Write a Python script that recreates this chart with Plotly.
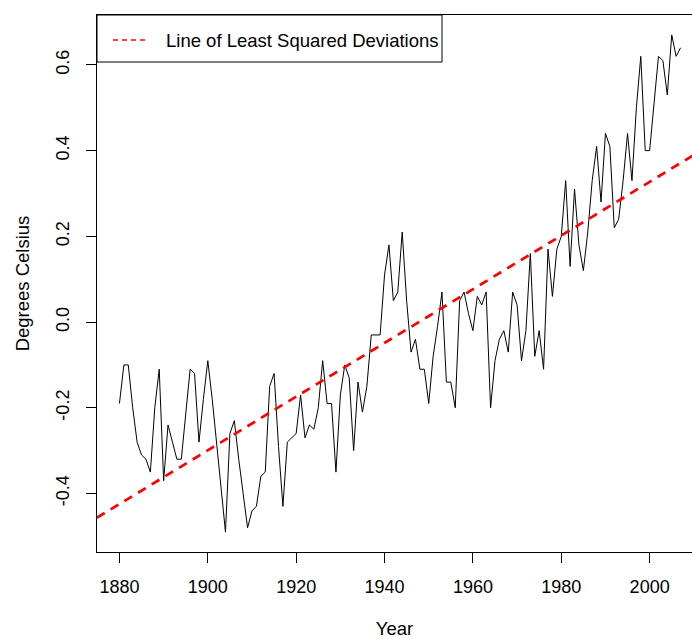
import numpy as np
import plotly.graph_objects as go

# Annual global temperature anomalies (degrees Celsius), 1880-2007
years = list(range(1880, 2008))
anomaly = [
    -0.19, -0.10, -0.10, -0.20, -0.28, -0.31, -0.32, -0.35, -0.20, -0.11,
    -0.37, -0.24, -0.28, -0.32, -0.32, -0.21, -0.11, -0.12, -0.28, -0.18,
    -0.09, -0.18, -0.28, -0.39, -0.49, -0.26, -0.23, -0.32, -0.40, -0.48,
    -0.44, -0.43, -0.36, -0.35, -0.15, -0.12, -0.29, -0.43, -0.28, -0.27,
    -0.26, -0.17, -0.27, -0.24, -0.25, -0.20, -0.09, -0.19, -0.19, -0.35,
    -0.17, -0.10, -0.13, -0.30, -0.14, -0.21, -0.15, -0.03, -0.03, -0.03,
    0.11, 0.18, 0.05, 0.07, 0.21, 0.05, -0.07, -0.04, -0.11, -0.11,
    -0.19, -0.08, -0.01, 0.07, -0.14, -0.14, -0.20, 0.05, 0.07, 0.02,
    -0.02, 0.06, 0.04, 0.07, -0.20, -0.09, -0.04, -0.02, -0.07, 0.07,
    0.04, -0.09, -0.02, 0.16, -0.08, -0.02, -0.11, 0.17, 0.06, 0.17,
    0.20, 0.33, 0.13, 0.31, 0.18, 0.12, 0.21, 0.33, 0.41, 0.28,
    0.44, 0.41, 0.22, 0.24, 0.33, 0.44, 0.33, 0.50, 0.62, 0.40,
    0.40, 0.52, 0.62, 0.61, 0.53, 0.67, 0.62, 0.64,
]
x_ticks = [1880, 1900, 1920, 1940, 1960, 1980, 2000]
y_ticks = [-0.4, -0.2, 0.0, 0.2, 0.4, 0.6]
y_tick_text = ["-0.4", "-0.2", "0.0", "0.2", "0.4", "0.6"]
legend_label = "Line of Least Squared Deviations"

yr = np.array(years, dtype=float)
temp = np.array(anomaly, dtype=float)

# Ordinary least squares trend
slope, intercept = np.polyfit(yr, temp, 1)

# Axis ranges padded by 4% on each side
xpad = 0.04 * (yr.max() - yr.min())
ypad = 0.04 * (temp.max() - temp.min())
x_lo, x_hi = yr.min() - xpad, yr.max() + xpad
y_lo, y_hi = temp.min() - ypad, temp.max() + ypad

W, H = 692, 639
L, T, B = 97, 15, 87
full_w = 606                      # width of the full plotting region
vis_w = W - L                     # part of it that fits on the page
x_vis_hi = x_lo + (x_hi - x_lo) * vis_w / full_w

trend_x = np.array([x_lo, x_hi])
trend_y = intercept + slope * trend_x

TICK_FONT = dict(family="Liberation Sans, Arial", size=18, color="black")
TEXT_FONT = dict(family="Liberation Sans, Arial", size=18.5, color="black")

fig = go.Figure()
fig.add_trace(go.Scatter(
    x=yr, y=temp, mode="lines",
    line=dict(color="black", width=1),
    showlegend=False, hoverinfo="skip",
))
fig.add_trace(go.Scatter(
    x=trend_x, y=trend_y, mode="lines",
    line=dict(color="#ff0000", width=2.7, dash="9px,7px"),
    showlegend=False, hoverinfo="skip",
))

# Legend box in the top-left corner of the plot
plot_h = H - T - B
lg_x0, lg_x1 = 0.0, (442 - L) / vis_w
lg_y1 = 1.0
lg_y0 = 1.0 - (62 - T) / plot_h
fig.add_shape(type="rect", xref="paper", yref="paper",
              x0=lg_x0, x1=lg_x1, y0=lg_y0, y1=lg_y1,
              line=dict(color="black", width=1), fillcolor="white", layer="above")
ly = 1.0 - (40 - T) / plot_h
fig.add_shape(type="line", xref="paper", yref="paper",
              x0=(113 - L) / vis_w, x1=(149 - L) / vis_w, y0=ly, y1=ly,
              line=dict(color="#ff0000", width=1.3, dash="5px,4px"), layer="above")
fig.add_annotation(xref="paper", yref="paper", x=(164 - L) / vis_w, y=ly,
                   xanchor="left", yanchor="middle", showarrow=False,
                   text=legend_label, font=TEXT_FONT)

fig.update_layout(
    width=W, height=H,
    margin=dict(l=L, r=0, t=T, b=B, pad=0, autoexpand=False),
    paper_bgcolor="white", plot_bgcolor="white",
    showlegend=False,
    xaxis=dict(
        range=[x_lo, x_vis_hi], tickvals=x_ticks, ticks="outside", ticklen=10,
        tickcolor="black", tickwidth=1, showgrid=False, zeroline=False,
        showline=True, linecolor="black", linewidth=1, mirror=True,
        tickfont=TICK_FONT, ticklabelstandoff=8, automargin=False,
        title=dict(text="Year", font=TEXT_FONT, standoff=40),
    ),
    yaxis=dict(
        range=[y_lo, y_hi], tickvals=y_ticks, ticktext=y_tick_text,
        ticks="outside", ticklen=10, tickcolor="black", tickwidth=1,
        tickangle=-90, showgrid=False, zeroline=False,
        showline=True, linecolor="black", linewidth=1, mirror=False,
        tickfont=TICK_FONT, ticklabelstandoff=10, automargin=False,
        title=dict(text="Degrees Celsius", font=TEXT_FONT, standoff=18),
    ),
)

fig.write_html("out.html")
